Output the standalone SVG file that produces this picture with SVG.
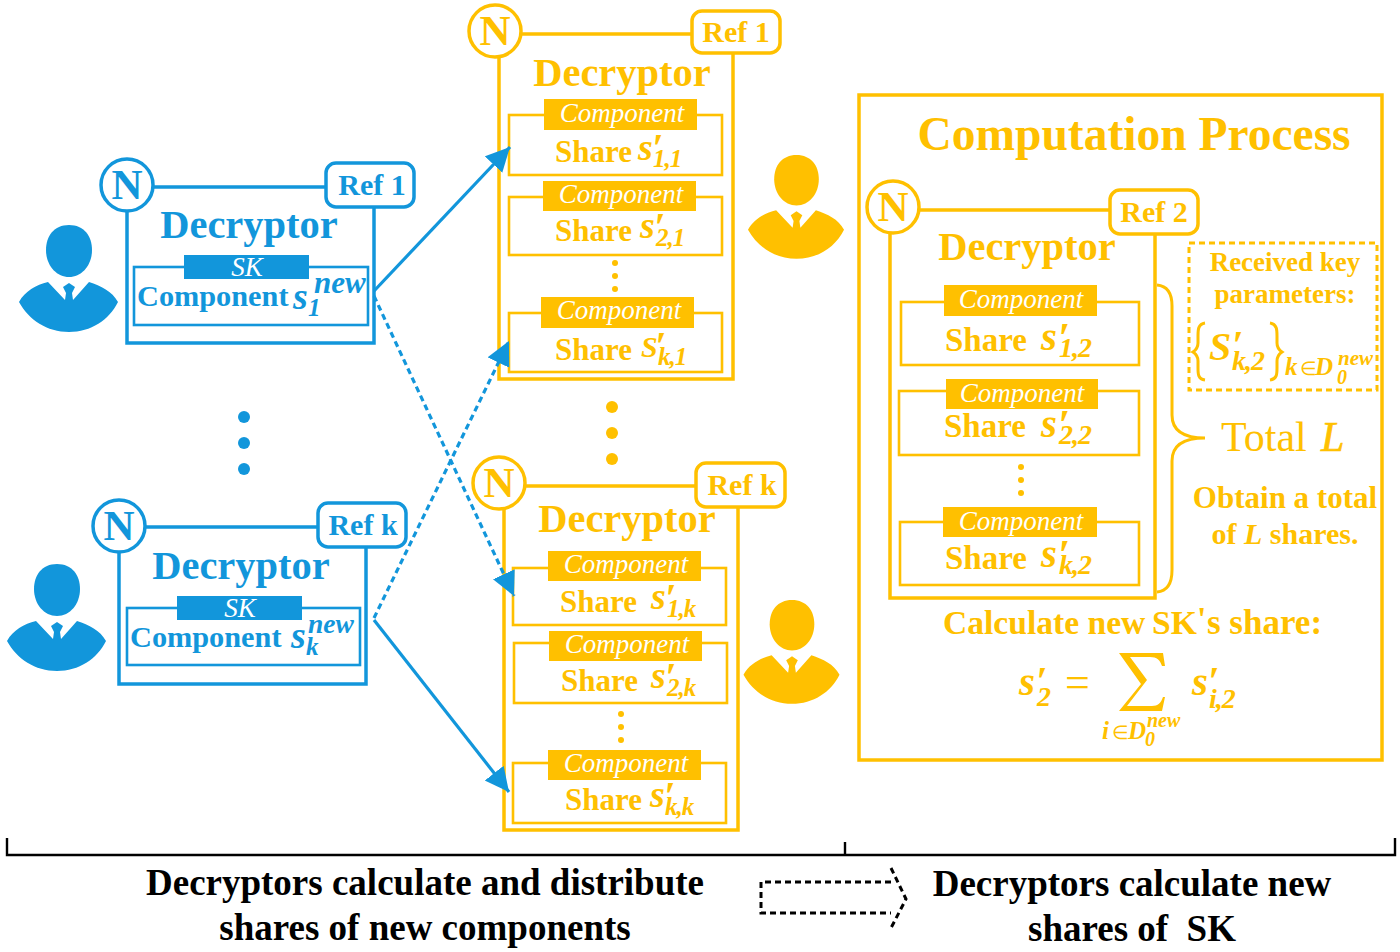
<svg xmlns="http://www.w3.org/2000/svg" width="1400" height="952" viewBox="0 0 1400 952">
<style>
text{font-family:"Liberation Serif","Times New Roman",serif}
.b{fill:#1296db}.y{fill:#ffc000}
.sb{stroke:#1296db;fill:none}.sy{stroke:#ffc000;fill:none}
.frame{stroke-width:3.5;fill:none}.row{stroke-width:2.6;fill:#fff}
.ref{stroke-width:3.5;fill:#fff}.n{stroke-width:3.5;fill:#fff}
.nt{font-size:43px;font-weight:bold;text-anchor:middle}
.rt{font-size:30px;font-weight:bold;text-anchor:middle}
.dt{font-size:40.5px;font-weight:bold;text-anchor:middle}
.ct{font-size:27px;font-style:italic;fill:#fff;text-anchor:middle}
.st{font-size:31px;font-weight:bold}
.st2{font-size:33px;font-weight:bold}
.lead{font-size:30.3px;font-weight:bold}
.mi{font-style:italic;font-weight:bold}
.m{font-size:38px}.m2{font-size:41px}.big{font-size:30px}
.p{font-size:40px}.p2{font-size:42px}
.u{font-size:25px;letter-spacing:-1px}.u2{font-size:28px;letter-spacing:-1px}
.thin{font-weight:normal;font-size:19px;font-style:normal}
.conn{stroke:#1296db;stroke-width:3.2;fill:none}
.dash{stroke-dasharray:6 4}
.cap{font-size:37px;font-weight:bold;text-anchor:middle;fill:#000}
.note{font-size:27px;font-weight:bold;text-anchor:middle}
.note2{font-size:30px;font-weight:bold;text-anchor:middle}
.calc{font-size:33.6px;font-weight:bold}
</style>
<defs>
<g id="person">
<path d="M0,0C15,0 23,11 23,25C23,40 13,52 0,52C-13,52 -23,40 -23,25C-23,11 -15,0 0,0Z"/>
<path d="M-21,57L-4,75L-3,68L-6,62L0,58L6,62L3,68L4,75L20,57C32,61 43,66 49,77C40,95 22,107 0,107C-22,107 -40,95 -50,77C-44,66 -33,60 -21,57Z"/>
</g>
<marker id="head" markerUnits="userSpaceOnUse" markerWidth="26" markerHeight="26" refX="24" refY="12" orient="auto">
<path d="M0,0L24,12L0,24Z" fill="#1296db"/>
</marker>
</defs>

<g id="user-a" class="b"><use href="#person" x="69" y="225"/></g>
<g id="user-b" class="b"><use href="#person" x="57" y="564"/></g>
<g id="user-c" class="y"><use href="#person" transform="translate(796.5,155) scale(.97)"/></g>
<g id="user-d" class="y"><use href="#person" transform="translate(792,600) scale(.97)"/></g>

<g id="blue-decryptor-1">
<rect class="sb frame" x="127" y="187" width="247" height="156"/>
<circle class="sb n" cx="127" cy="185" r="26"/>
<text class="b nt" x="127" y="199">N</text>
<rect class="sb ref" x="326" y="163" width="88" height="44" rx="10"/>
<text class="b rt" x="372" y="195">Ref 1</text>
<text class="b dt" x="249" y="238">Decryptor</text>
<rect class="sb row" x="134" y="267" width="234" height="58"/>
<rect class="b" x="184" y="255" width="125" height="24"/>
<text class="ct" x="247" y="276">SK</text>
<text class="b lead" x="137" y="306">Component</text>
<text class="b mi"><tspan class="m" x="293" y="309">s</tspan><tspan font-size="31" x="314" y="293">new</tspan><tspan class="u" x="308" y="316">1</tspan></text>
</g>

<g id="blue-decryptor-k">
<rect class="sb frame" x="119" y="527" width="247" height="157"/>
<circle class="sb n" cx="119" cy="526" r="26"/>
<text class="b nt" x="119" y="540">N</text>
<rect class="sb ref" x="318" y="503" width="88" height="44" rx="10"/>
<text class="b rt" x="363" y="535">Ref k</text>
<text class="b dt" x="241" y="579">Decryptor</text>
<rect class="sb row" x="127" y="608" width="233" height="57"/>
<rect class="b" x="177" y="596" width="125" height="24"/>
<text class="ct" x="240" y="617">SK</text>
<text class="b lead" x="130" y="647">Component</text>
<text class="b mi"><tspan class="m" x="291" y="648">s</tspan><tspan font-size="27.5" x="308" y="633">new</tspan><tspan class="u" x="306" y="655">k</tspan></text>
</g>

<g id="blue-dots" class="b">
<circle cx="244" cy="417" r="6"/><circle cx="244" cy="443" r="6"/><circle cx="244" cy="469" r="6"/>
</g>

<g id="yellow-decryptor-1">
<rect class="sy frame" x="499" y="34" width="234" height="345"/>
<circle class="sy n" cx="495" cy="31" r="26"/>
<text class="y nt" x="495" y="45">N</text>
<rect class="sy ref" x="692" y="11" width="88" height="42" rx="10"/>
<text class="y rt" x="736" y="42">Ref 1</text>
<text class="y dt" x="622" y="86">Decryptor</text>
<rect class="sy row" x="509" y="115" width="213" height="60"/>
<rect class="y" x="544" y="99" width="153" height="31"/>
<text class="ct" x="622" y="122">Component</text>
<text class="y st" x="555" y="162">Share</text>
<text class="y mi"><tspan class="m" x="638" y="160">s</tspan><tspan class="p" x="652" y="161">′</tspan><tspan class="u" x="653" y="167">1,1</tspan></text>
<rect class="sy row" x="509" y="197" width="213" height="58"/>
<rect class="y" x="543" y="181" width="153" height="30"/>
<text class="ct" x="621" y="203">Component</text>
<text class="y st" x="555" y="241">Share</text>
<text class="y mi"><tspan class="m" x="640" y="238">s</tspan><tspan class="p" x="654" y="240">′</tspan><tspan class="u" x="656" y="246">2,1</tspan></text>
<circle class="y" cx="615" cy="263" r="3"/><circle class="y" cx="615" cy="276" r="3"/><circle class="y" cx="615" cy="289" r="3"/>
<rect class="sy row" x="509" y="313" width="213" height="59"/>
<rect class="y" x="541" y="297" width="153" height="31"/>
<text class="ct" x="619" y="319">Component</text>
<text class="y st" x="555" y="360">Share</text>
<text class="y mi"><tspan class="big" x="641" y="357">S</tspan><tspan class="p" x="655" y="359">′</tspan><tspan class="u" x="658" y="365">k,1</tspan></text>
</g>

<g id="yellow-dots" class="y">
<circle cx="612" cy="407" r="6"/><circle cx="612" cy="433" r="6"/><circle cx="612" cy="459" r="6"/>
</g>

<g id="yellow-decryptor-k">
<rect class="sy frame" x="504" y="486" width="234" height="344"/>
<circle class="sy n" cx="499" cy="483" r="26"/>
<text class="y nt" x="499" y="497">N</text>
<rect class="sy ref" x="696" y="463" width="89" height="44" rx="10"/>
<text class="y rt" x="742" y="495">Ref k</text>
<text class="y dt" x="627" y="532">Decryptor</text>
<rect class="sy row" x="513" y="568" width="213" height="57"/>
<rect class="y" x="548" y="551" width="153" height="30"/>
<text class="ct" x="626" y="573">Component</text>
<text class="y st" x="560" y="612">Share</text>
<text class="y mi"><tspan class="m" x="651" y="609">s</tspan><tspan class="p" x="665" y="611">′</tspan><tspan class="u" x="667" y="617">1,k</tspan></text>
<rect class="sy row" x="514" y="643" width="213" height="60"/>
<rect class="y" x="549" y="631" width="153" height="30"/>
<text class="ct" x="627" y="653">Component</text>
<text class="y st" x="561" y="691">Share</text>
<text class="y mi"><tspan class="m" x="651" y="688">s</tspan><tspan class="p" x="665" y="690">′</tspan><tspan class="u" x="667" y="696">2,k</tspan></text>
<circle class="y" cx="621" cy="714" r="3"/><circle class="y" cx="621" cy="727" r="3"/><circle class="y" cx="621" cy="740" r="3"/>
<rect class="sy row" x="513" y="763" width="213" height="60"/>
<rect class="y" x="548" y="750" width="153" height="30"/>
<text class="ct" x="626" y="772">Component</text>
<text class="y st" x="565" y="810">Share</text>
<text class="y mi"><tspan class="m" x="650" y="807">s</tspan><tspan class="p" x="664" y="809">′</tspan><tspan class="u" x="665" y="815">k,k</tspan></text>
</g>

<g id="computation-process">
<rect class="sy frame" x="859" y="95" width="523" height="665"/>
<text class="y" x="1134" y="150" font-size="47.5" font-weight="bold" text-anchor="middle">Computation Process</text>
</g>

<g id="yellow-decryptor-2">
<rect class="sy frame" x="890" y="210" width="265" height="388"/>
<circle class="sy n" cx="893" cy="207" r="26"/>
<text class="y nt" x="893" y="221">N</text>
<rect class="sy ref" x="1110" y="190" width="88" height="44" rx="10"/>
<text class="y rt" x="1154" y="222">Ref 2</text>
<text class="y dt" x="1027" y="260">Decryptor</text>
<rect class="sy row" x="901" y="302" width="238" height="63"/>
<rect class="y" x="944" y="285" width="153" height="31"/>
<text class="ct" x="1021" y="308">Component</text>
<text class="y st2" x="945" y="351">Share</text>
<text class="y mi"><tspan class="m2" x="1041" y="350">s</tspan><tspan class="p2" x="1058" y="352">′</tspan><tspan class="u2" x="1059" y="357">1,2</tspan></text>
<rect class="sy row" x="899" y="391" width="240" height="64"/>
<rect class="y" x="946" y="379" width="152" height="30"/>
<text class="ct" x="1022" y="402">Component</text>
<text class="y st2" x="944" y="437">Share</text>
<text class="y mi"><tspan class="m2" x="1041" y="437">s</tspan><tspan class="p2" x="1058" y="439">′</tspan><tspan class="u2" x="1059" y="444">2,2</tspan></text>
<circle class="y" cx="1021" cy="467" r="3"/><circle class="y" cx="1021" cy="480" r="3"/><circle class="y" cx="1021" cy="493" r="3"/>
<rect class="sy row" x="900" y="522" width="239" height="63"/>
<rect class="y" x="943" y="507" width="154" height="30"/>
<text class="ct" x="1021" y="530">Component</text>
<text class="y st2" x="945" y="569">Share</text>
<text class="y mi"><tspan class="m2" x="1041" y="567">s</tspan><tspan class="p2" x="1058" y="569">′</tspan><tspan class="u2" x="1059" y="574">k,2</tspan></text>
</g>

<g id="total-brace">
<path class="sy" stroke-width="3" d="M1157,285C1168,286 1172,295 1172,306V415C1172,428 1180,438 1205,438C1180,438 1172,448 1172,461V570C1172,582 1168,591 1157,592"/>
<text class="y" font-size="42" x="1221" y="451">Total <tspan font-style="italic" x="1321" stroke="#ffc000" stroke-width=".7">L</tspan></text>
<text class="y note2" x="1285" y="508" style="font-size:31px">Obtain a total</text>
<text class="y note2" x="1285" y="544">of <tspan font-style="italic">L</tspan> shares.</text>
</g>

<g id="received-parameters">
<rect class="sy" x="1189" y="243" width="188" height="147" stroke-width="3" stroke-dasharray="6 4"/>
<text class="y note" x="1285" y="271">Received key</text>
<text class="y note" x="1285" y="303">parameters:</text>
<path class="sy" stroke-width="3" d="M1205,323C1198,324 1198,330 1198,336V343C1198,347 1196,350 1193,352C1196,354 1198,357 1198,361V368C1198,374 1198,379 1205,380"/>
<path class="sy" stroke-width="3" d="M1270,323C1277,324 1277,330 1277,336V343C1277,347 1279,350 1282,352C1279,354 1277,357 1277,361V368C1277,374 1277,379 1270,380"/>
<text class="y mi"><tspan font-size="40" x="1209" y="360">S</tspan><tspan class="p" x="1232" y="358">′</tspan><tspan class="u2" x="1232" y="370">k,2</tspan></text>
<text class="y mi"><tspan font-size="25" x="1285" y="375">k</tspan><tspan class="thin" x="1300" y="375">∈</tspan><tspan font-size="25" x="1315" y="375">D</tspan><tspan font-size="21" x="1338" y="365">new</tspan><tspan font-size="20" x="1337" y="384">0</tspan></text>
</g>

<g id="share-formula">
<text class="y calc"><tspan x="943" y="634">Calculate new</tspan><tspan x="1152" y="634">SK</tspan><tspan x="1197" y="630">'</tspan><tspan x="1207" y="634" style="font-size:35px">s share:</tspan></text>
<text class="y mi"><tspan class="m2" x="1019" y="695">s</tspan><tspan class="p" x="1036" y="694">′</tspan><tspan class="u2" x="1037" y="706">2</tspan></text>
<text class="y" x="1065" y="697" font-size="44">=</text>
<path class="y" d="M1119,653H1163L1165,666L1162,666C1160,660 1157,657 1150,657H1130L1147,680L1127,706H1152C1158,706 1161,703 1163,697L1165,697L1162,711H1119L1141,684Z"/>
<text class="y mi"><tspan class="m2" x="1192" y="695">s</tspan><tspan class="p" x="1208" y="694">′</tspan><tspan class="u2" x="1209" y="708">i,2</tspan></text>
<text class="y mi"><tspan font-size="25" x="1102" y="739">i</tspan><tspan class="thin" x="1112" y="739">∈</tspan><tspan font-size="25" x="1128" y="739">D</tspan><tspan font-size="20" x="1147" y="727">new</tspan><tspan font-size="20" x="1145" y="746">0</tspan></text>
</g>

<g id="bottom-bracket">
<path fill="none" stroke="#000" stroke-width="2.4" d="M7,838V855H1395V838M845,842V855"/>
<text class="cap" x="425" y="895">Decryptors calculate and distribute</text>
<text class="cap" x="425" y="940">shares of new components</text>
<text class="cap" x="1132" y="896">Decryptors calculate new</text>
<text class="cap" x="1132" y="941" xml:space="preserve">shares of  SK</text>
<path fill="none" stroke="#000" stroke-width="3" stroke-dasharray="6 4" d="M891,882H761V913H891M891,868L906,899L891,928"/>
</g>

<g id="connectors">
<path class="conn" d="M374,291L510,147" marker-end="url(#head)"/>
<path class="conn dash" d="M374,296L514,596" marker-end="url(#head)"/>
<path class="conn dash" d="M374,618L509,341" marker-end="url(#head)"/>
<path class="conn" d="M374,620L509,792" marker-end="url(#head)"/>
</g>
</svg>
